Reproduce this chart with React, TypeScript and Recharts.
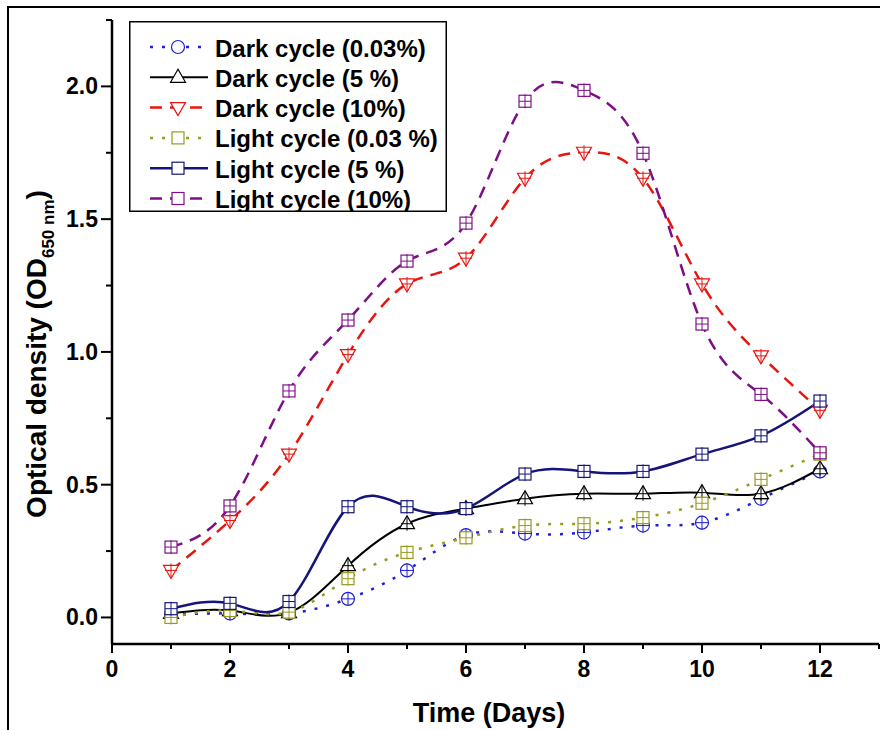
import { LineChart, Line, XAxis, YAxis, Legend } from 'recharts';

const days = [1, 2, 3, 4, 5, 6, 7, 8, 9, 10, 11, 12];
const darkLow = [0.01, 0.015, 0.015, 0.07, 0.177, 0.31, 0.316, 0.32, 0.346, 0.357, 0.447, 0.55];
const darkMid = [0.015, 0.026, 0.018, 0.195, 0.353, 0.41, 0.447, 0.466, 0.466, 0.47, 0.466, 0.56];
const darkHigh = [0.177, 0.365, 0.615, 0.99, 1.256, 1.353, 1.654, 1.752, 1.654, 1.256, 0.985, 0.78];
const lightLow = [0.0, 0.026, 0.02, 0.146, 0.245, 0.3, 0.346, 0.353, 0.376, 0.43, 0.52, 0.615];
const lightMid = [0.033, 0.053, 0.06, 0.417, 0.417, 0.41, 0.54, 0.55, 0.55, 0.615, 0.684, 0.815];
const lightHigh = [0.265, 0.42, 0.853, 1.12, 1.342, 1.485, 1.944, 1.985, 1.748, 1.105, 0.84, 0.62];

const xTicks = [0, 1, 2, 3, 4, 5, 6, 7, 8, 9, 10, 11, 12, 13];
const yTicks = [0, 0.25, 0.5, 0.75, 1, 1.25, 1.5, 1.75, 2, 2.25];

type Shape = 'circle' | 'up' | 'down' | 'square';

const series = [
  { key: 'darkLow', name: 'Dark cycle (0.03%)', values: darkLow, color: '#1f1fd6', dash: '3 9', width: 2.5, shape: 'circle' as Shape },
  { key: 'darkMid', name: 'Dark cycle (5 %)', values: darkMid, color: '#000000', dash: undefined, width: 2, shape: 'up' as Shape },
  { key: 'darkHigh', name: 'Dark cycle (10%)', values: darkHigh, color: '#e8140f', dash: '12 8', width: 2.5, shape: 'down' as Shape },
  { key: 'lightLow', name: 'Light cycle (0.03 %)', values: lightLow, color: '#9a9a1e', dash: '3 9', width: 2.5, shape: 'square' as Shape },
  { key: 'lightMid', name: 'Light cycle (5 %)', values: lightMid, color: '#14147a', dash: undefined, width: 2.5, shape: 'square' as Shape },
  { key: 'lightHigh', name: 'Light cycle (10%)', values: lightHigh, color: '#7d0f86', dash: '12 8', width: 2.5, shape: 'square' as Shape },
];

const data = days.map((d, i) => {
  const row: any = { day: d };
  series.forEach((s) => (row[s.key] = s.values[i]));
  return row;
});

const font = '"Liberation Sans", Arial, sans-serif';

const Marker = ({ cx, cy, shape, color, cross }: any) => {
  if (cx == null || cy == null) return null;
  let body;
  if (shape === 'circle') body = <circle cx={cx} cy={cy} r={6.5} />;
  else if (shape === 'square') body = <rect x={cx - 6} y={cy - 6} width={12} height={12} />;
  else if (shape === 'up') body = <polygon points={`${cx},${cy - 8} ${cx - 7.5},${cy + 5} ${cx + 7.5},${cy + 5}`} />;
  else body = <polygon points={`${cx},${cy + 8} ${cx - 7.5},${cy - 5} ${cx + 7.5},${cy - 5}`} />;
  return (
    <g fill="#fff" stroke={color} strokeWidth={1.2}>
      {body}
      {cross && (
        <>
          <line x1={cx} y1={cy - 7} x2={cx} y2={cy + 7} strokeWidth={1} />
          <line x1={cx - 6} y1={cy} x2={cx + 6} y2={cy} strokeWidth={1} />
        </>
      )}
    </g>
  );
};

const YTick = ({ x, y, payload }: any) => {
  const v = payload.value;
  const major = Math.abs(v * 2 - Math.round(v * 2)) < 1e-6;
  return (
    <g>
      <line x1={x - (major ? 11 : 6)} y1={y} x2={x} y2={y} stroke="#000" strokeWidth={2} />
      {major && (
        <text x={x - 14} y={y} textAnchor="end" dominantBaseline="central" fontFamily={font} fontWeight="bold" fontSize={23} fill="#000">
          {v.toFixed(1)}
        </text>
      )}
    </g>
  );
};

const XTick = ({ x, y, payload }: any) => {
  const v = payload.value;
  const major = v % 2 === 0 && v <= 12;
  return (
    <g>
      <line x1={x} y1={y} x2={x} y2={y + (major ? 9 : 5)} stroke="#000" strokeWidth={2} />
      {major && (
        <text x={x} y={y + 33} textAnchor="middle" fontFamily={font} fontWeight="bold" fontSize={23} fill="#000">
          {v}
        </text>
      )}
    </g>
  );
};

const LegendBox = () => (
  <svg width={318} height={191} style={{ display: 'block' }}>
    <rect x={0.75} y={0.75} width={316.5} height={189.5} fill="#fff" stroke="#000" strokeWidth={1.5} />
    {series.map((s, i) => {
      const cy = 26 + i * 30.3;
      return (
        <g key={s.key}>
          <line x1={21} y1={cy} x2={79} y2={cy} stroke={s.color} strokeWidth={s.width} strokeDasharray={s.dash} />
          <Marker cx={49} cy={cy} shape={s.shape} color={s.color} />
          <text x={86} y={cy + 1} dominantBaseline="central" fontFamily={font} fontWeight="bold" fontSize={24} fill="#000">
            {s.name}
          </text>
        </g>
      );
    })}
  </svg>
);

export default function App() {
  return (
    <div style={{ position: 'absolute', left: 0, top: 0, width: 880, height: 730, background: '#fff', overflow: 'hidden' }}>
      <div
        style={{
          position: 'absolute',
          left: 7,
          top: 6,
          width: 880,
          height: 730,
          borderTop: '2px solid #000',
          borderLeft: '2px solid #000',
        }}
      />
      <div style={{ position: 'absolute', left: 0, top: 0 }}>
        <LineChart width={880} height={730} data={data} margin={{ top: 20, right: 1, left: 52, bottom: 46 }}>
          <XAxis
            dataKey="day"
            type="number"
            domain={[0, 13]}
            ticks={xTicks}
            interval={0}
            tickSize={0}
            tickMargin={0}
            tickLine={false}
            tick={<XTick />}
            height={40}
            axisLine={{ stroke: '#000', strokeWidth: 2.5 }}
            label={() => (
              <text x={489} y={722} textAnchor="middle" fontFamily={font} fontWeight="bold" fontSize={27} fill="#000">
                Time (Days)
              </text>
            )}
          />
          <YAxis
            type="number"
            domain={[-0.1, 2.25]}
            ticks={yTicks}
            interval={0}
            tickSize={0}
            tickMargin={0}
            tickLine={false}
            tick={<YTick />}
            width={60}
            axisLine={{ stroke: '#000', strokeWidth: 2.5 }}
            label={() => (
              <text
                x={0}
                y={0}
                transform="translate(46,354) rotate(-90)"
                textAnchor="middle"
                fontFamily={font}
                fontWeight="bold"
                fontSize={28}
                fill="#000"
              >
                Optical density (OD
                <tspan fontSize={17} dy={8}>650 nm</tspan>
                <tspan dy={-8}>)</tspan>
              </text>
            )}
          />
          <Legend
            layout="vertical"
            align="center"
            verticalAlign="middle"
            content={() => <LegendBox />}
            wrapperStyle={{ left: 129, top: 21, width: 318, height: 191 }}
          />
          {series.map((s) => (
            <Line
              key={s.key}
              dataKey={s.key}
              name={s.name}
              type="natural"
              stroke={s.color}
              strokeWidth={s.width}
              strokeDasharray={s.dash}
              isAnimationActive={false}
              dot={(p: any) => (
                <Marker key={`${s.key}-${p.index}`} cx={p.cx} cy={p.cy} shape={s.shape} color={s.color} cross={true} />
              )}
              activeDot={false}
            />
          ))}
        </LineChart>
      </div>
    </div>
  );
}
